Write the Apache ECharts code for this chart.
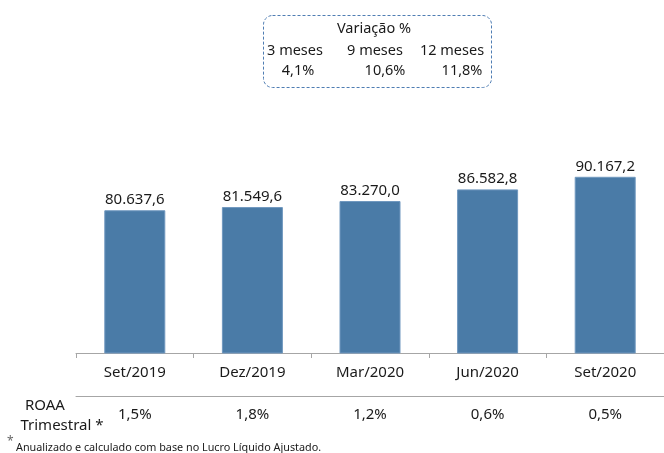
<!DOCTYPE html>
<html>
<head>
<meta charset="utf-8">
<script src="https://cdn.jsdelivr.net/npm/echarts@6/dist/echarts.min.js"></script>
<style>
  html, body { margin: 0; padding: 0; background: #fff; }
  #chart { width: 664px; height: 453px; }
</style>
</head>
<body>
<div id="chart"></div>
<script>
// dados do gráfico
const categorias = ['Set/2019', 'Dez/2019', 'Mar/2020', 'Jun/2020', 'Set/2020'];
const valores = [80637.6, 81549.6, 83270.0, 86582.8, 90167.2];
const roaa = ['1,5%', '1,8%', '1,2%', '0,6%', '0,5%'];
const periodos = ['3 meses', '9 meses', '12 meses'];
const variacao = ['4,1%', '10,6%', '11,8%'];

const fonte = '"Noto Sans", sans-serif';
const corTexto = '#1a1a1a';

// 80637.6 -> "80.637,6"
const formatar = (v) => {
  const [int, dec] = v.toFixed(1).split('.');
  return int.replace(/\B(?=(\d{3})+(?!\d))/g, '.') + ',' + dec;
};

const chart = echarts.init(document.getElementById('chart'));

// caixa de variação
const posPeriodo = [295, 375, 452];
const posVariacao = [298, 385, 462];
const caixa = [
  {
    type: 'rect',
    shape: { x: 263.5, y: 15.5, width: 228, height: 72, r: 9 },
    style: { fill: '#fff', stroke: '#4f7db3', lineWidth: 1, lineDash: [3, 2] }
  },
  {
    type: 'text',
    style: { text: 'Variação %', x: 374, y: 29, align: 'center', verticalAlign: 'middle',
      font: '14.5px ' + fonte, fill: corTexto }
  }
];
periodos.forEach((p, i) => {
  caixa.push({
    type: 'text',
    style: { text: p, x: posPeriodo[i], y: 51, align: 'center', verticalAlign: 'middle',
      font: '14.5px ' + fonte, fill: corTexto }
  });
  caixa.push({
    type: 'text',
    style: { text: variacao[i], x: posVariacao[i], y: 71, align: 'center', verticalAlign: 'middle',
      font: '14.5px ' + fonte, fill: corTexto }
  });
});

const option = {
  animation: false,
  backgroundColor: '#fff',
  grid: { left: 76, width: 595, top: 72, bottom: 100 },
  xAxis: [
    {
      type: 'category',
      data: categorias,
      position: 'bottom',
      axisLine: { lineStyle: { color: '#a6a6a6', width: 1 } },
      axisTick: { show: true, length: 5, lineStyle: { color: '#a6a6a6' } },
      axisLabel: { color: corTexto, fontSize: 15, fontFamily: fonte, margin: 12 }
    },
    {
      type: 'category',
      data: roaa,
      position: 'bottom',
      offset: 43,
      axisLine: { lineStyle: { color: '#a6a6a6', width: 1 } },
      axisTick: { show: false },
      axisLabel: { color: corTexto, fontSize: 15, fontFamily: fonte, margin: 11 }
    }
  ],
  yAxis: {
    type: 'value',
    min: 40000,
    max: 120000,
    show: false,
    splitLine: { show: false }
  },
  series: [
    {
      type: 'bar',
      data: valores,
      barWidth: 61,
      itemStyle: { color: '#4a7ba7', borderColor: '#7098bf', borderWidth: 1 },
      label: {
        show: true,
        position: 'top',
        distance: 3,
        color: corTexto,
        fontSize: 15,
        fontFamily: fonte,
        formatter: (p) => formatar(p.value)
      }
    }
  ],
  graphic: caixa.concat([
    {
      type: 'text',
      style: { text: 'ROAA', x: 45, y: 406, align: 'center', verticalAlign: 'middle',
        font: '15px ' + fonte, fill: corTexto }
    },
    {
      type: 'text',
      style: { text: 'Trimestral *', x: 62, y: 426, align: 'center', verticalAlign: 'middle',
        font: '15px ' + fonte, fill: corTexto }
    },
    {
      type: 'text',
      style: { text: '*', x: 7, y: 442, verticalAlign: 'middle',
        font: '12px ' + fonte, fill: '#666' }
    },
    {
      type: 'text',
      style: { text: 'Anualizado e calculado com base no Lucro Líquido Ajustado.', x: 16, y: 448,
        verticalAlign: 'middle', font: '10.8px ' + fonte, fill: corTexto }
    }
  ])
};

chart.setOption(option);
</script>
</body>
</html>
